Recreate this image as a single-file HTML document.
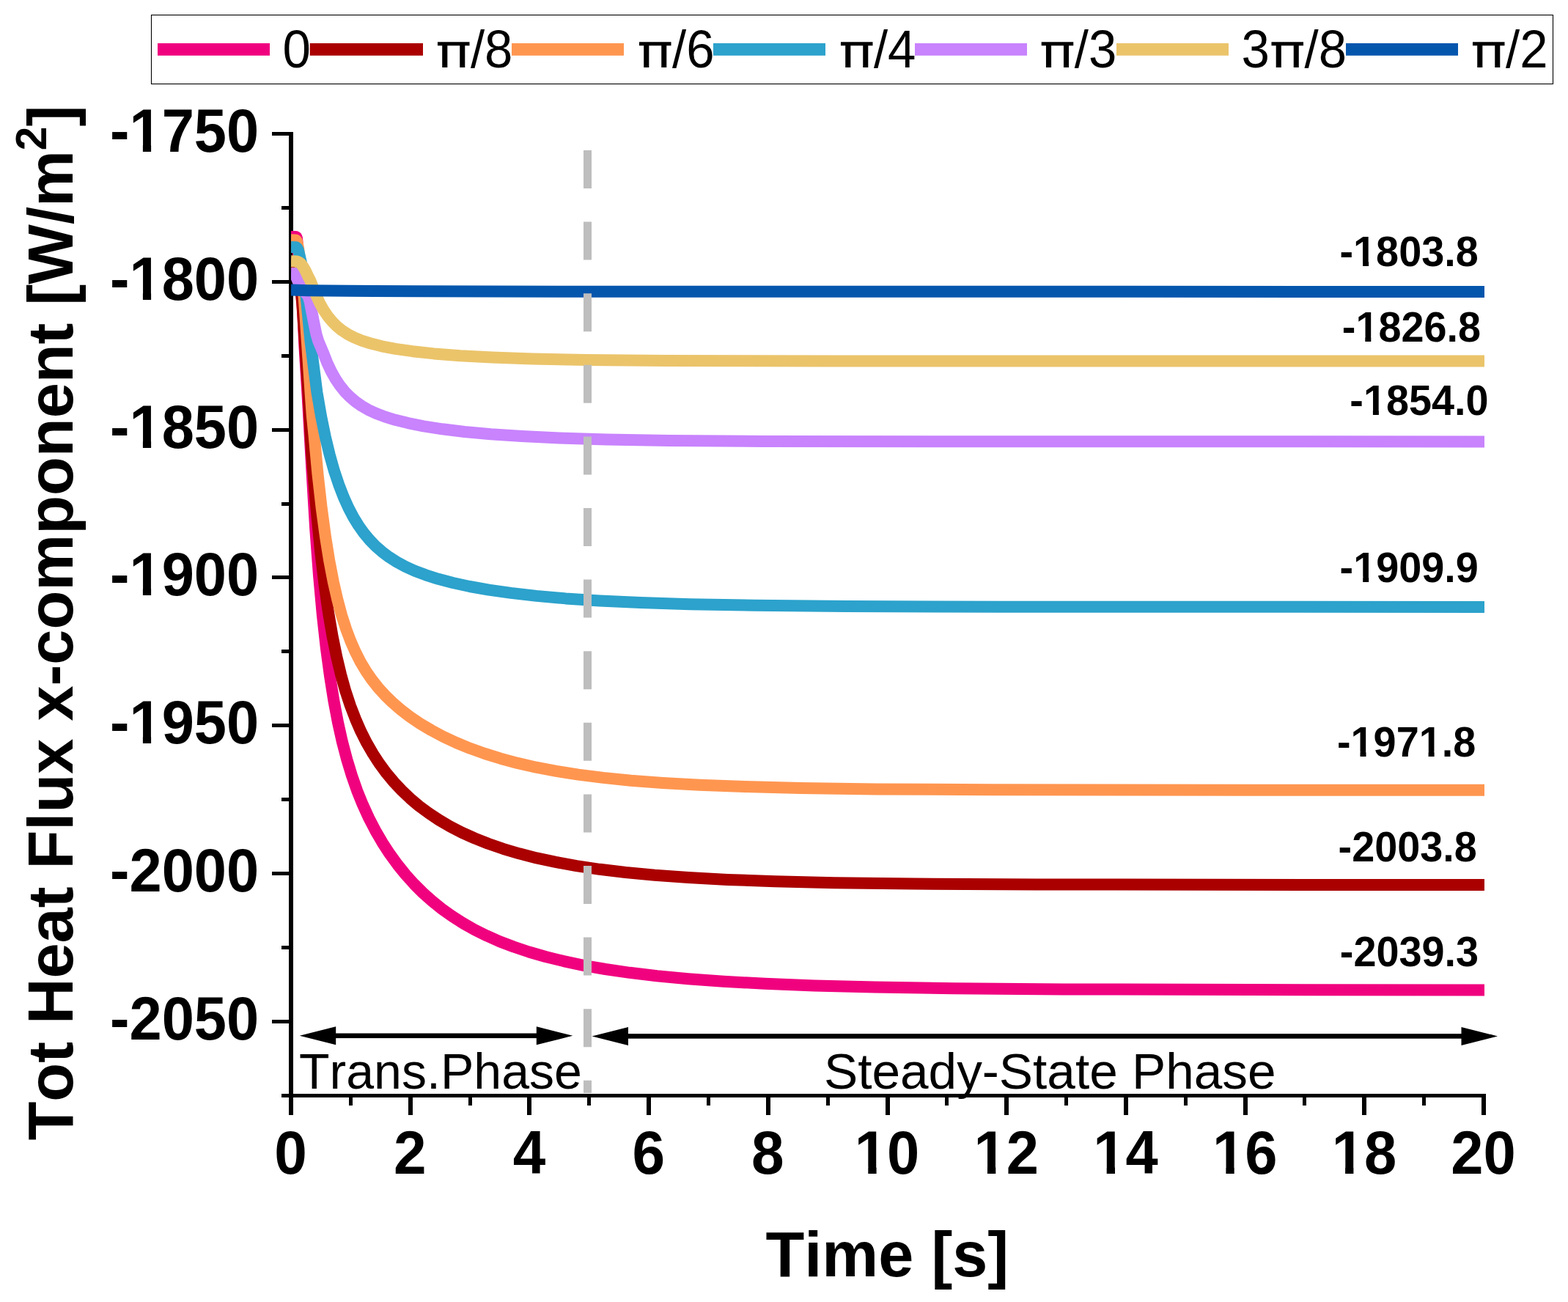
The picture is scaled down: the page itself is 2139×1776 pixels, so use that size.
<!DOCTYPE html><html><head><meta charset="utf-8"><title>Tot Heat Flux x-component vs Time</title>
<style>html,body{margin:0;padding:0;background:#fff;width:2139px;height:1776px;overflow:hidden}svg{display:block}text{font-family:"Liberation Sans",Arial,sans-serif;font-kerning:none}</style></head><body>
<svg width="2139" height="1776" viewBox="0 0 2139 1776">
<rect width="2139" height="1776" fill="#fff"/>
<rect x="206.5" y="20.5" width="1912" height="94" fill="none" stroke="#000" stroke-width="1.1"/>
<rect x="215.0" y="59" width="153.0" height="16.8" fill="#F0027F"/>
<rect x="422.7" y="59" width="154.3" height="16.8" fill="#AA0000"/>
<rect x="698.0" y="59" width="153.0" height="16.8" fill="#FF9650"/>
<rect x="973.0" y="59" width="153.0" height="16.8" fill="#2CA2CC"/>
<rect x="1248.0" y="59" width="153.0" height="16.8" fill="#C883FD"/>
<rect x="1523.0" y="59" width="153.0" height="16.8" fill="#EBC46A"/>
<rect x="1836.0" y="59" width="153.0" height="16.8" fill="#0456AD"/>
<text x="385.4" y="92.2" font-size="71.5" textLength="38.4" lengthAdjust="spacingAndGlyphs">0</text>
<text x="595.9" y="91.9" font-size="69" style="font-family:'WenQuanYi Zen Hei',sans-serif" textLength="45.6" lengthAdjust="spacingAndGlyphs">π</text><text x="641.9" y="92.2" font-size="71.5" textLength="57.5" lengthAdjust="spacingAndGlyphs">/8</text>
<text x="871.1" y="91.9" font-size="69" style="font-family:'WenQuanYi Zen Hei',sans-serif" textLength="45.6" lengthAdjust="spacingAndGlyphs">π</text><text x="917.1" y="92.2" font-size="71.5" textLength="57.5" lengthAdjust="spacingAndGlyphs">/6</text>
<text x="1145.9" y="91.9" font-size="69" style="font-family:'WenQuanYi Zen Hei',sans-serif" textLength="45.6" lengthAdjust="spacingAndGlyphs">π</text><text x="1191.9" y="92.2" font-size="71.5" textLength="57.5" lengthAdjust="spacingAndGlyphs">/4</text>
<text x="1419.8" y="91.9" font-size="69" style="font-family:'WenQuanYi Zen Hei',sans-serif" textLength="45.6" lengthAdjust="spacingAndGlyphs">π</text><text x="1465.8" y="92.2" font-size="71.5" textLength="57.5" lengthAdjust="spacingAndGlyphs">/3</text>
<text x="1693.5" y="92.2" font-size="71.5" textLength="38.4" lengthAdjust="spacingAndGlyphs">3</text><text x="1733.5" y="91.9" font-size="69" style="font-family:'WenQuanYi Zen Hei',sans-serif" textLength="45.6" lengthAdjust="spacingAndGlyphs">π</text><text x="1779.5" y="92.2" font-size="71.5" textLength="57.5" lengthAdjust="spacingAndGlyphs">/8</text>
<text x="2008.1" y="91.9" font-size="69" style="font-family:'WenQuanYi Zen Hei',sans-serif" textLength="45.6" lengthAdjust="spacingAndGlyphs">π</text><text x="2054.1" y="92.2" font-size="71.5" textLength="57.5" lengthAdjust="spacingAndGlyphs">/2</text>
<g fill="#000" shape-rendering="crispEdges">
<rect x="394" y="180" width="6" height="1341"/>
<rect x="384" y="1492" width="1643" height="5"/>
<rect x="371" y="180" width="26" height="5"/>
<rect x="371" y="382" width="26" height="5"/>
<rect x="371" y="584" width="26" height="5"/>
<rect x="371" y="785" width="26" height="5"/>
<rect x="371" y="987" width="26" height="5"/>
<rect x="371" y="1189" width="26" height="5"/>
<rect x="371" y="1391" width="26" height="5"/>
<rect x="384" y="281" width="13" height="5"/>
<rect x="384" y="483" width="13" height="5"/>
<rect x="384" y="685" width="13" height="5"/>
<rect x="384" y="886" width="13" height="5"/>
<rect x="384" y="1088" width="13" height="5"/>
<rect x="384" y="1290" width="13" height="5"/>
<rect x="394" y="1494" width="6" height="27"/>
<rect x="476" y="1494" width="5" height="14"/>
<rect x="557" y="1494" width="6" height="27"/>
<rect x="639" y="1494" width="5" height="14"/>
<rect x="719" y="1494" width="6" height="27"/>
<rect x="801" y="1494" width="5" height="14"/>
<rect x="882" y="1494" width="6" height="27"/>
<rect x="964" y="1494" width="5" height="14"/>
<rect x="1045" y="1494" width="6" height="27"/>
<rect x="1127" y="1494" width="5" height="14"/>
<rect x="1208" y="1494" width="6" height="27"/>
<rect x="1289" y="1494" width="5" height="14"/>
<rect x="1370" y="1494" width="6" height="27"/>
<rect x="1452" y="1494" width="5" height="14"/>
<rect x="1533" y="1494" width="6" height="27"/>
<rect x="1615" y="1494" width="5" height="14"/>
<rect x="1696" y="1494" width="6" height="27"/>
<rect x="1777" y="1494" width="5" height="14"/>
<rect x="1858" y="1494" width="6" height="27"/>
<rect x="1940" y="1494" width="5" height="14"/>
<rect x="2021" y="1494" width="6" height="27"/>
</g>
<defs><clipPath id="pa"><rect x="397" y="150" width="1628" height="1400"/></clipPath></defs>
<g clip-path="url(#pa)">
<path d="M397.0,323.0 L403.5,323.0 L404.4,323.5 L405.1,325.6 L408.8,367.7 L413.1,423.6 L415.4,472.0 L419.7,541.4 L425.6,644.7 L430.2,721.1 L435.0,784.9 L439.8,838.2 L444.8,883.4 L450.0,922.0 L455.3,955.6 L461.0,985.6 L466.9,1011.9 L473.3,1036.1 L480.0,1058.1 L487.1,1078.4 L494.8,1097.4 L503.1,1115.6 L512.1,1132.9 L521.6,1149.3 L531.7,1164.8 L542.3,1179.4 L553.3,1193.0 L565.0,1206.0 L577.0,1218.0 L589.7,1229.3 L603.0,1240.0 L616.8,1249.8 L631.6,1259.2 L647.2,1268.1 L663.8,1276.3 L681.6,1284.2 L700.8,1291.5 L721.6,1298.5 L744.2,1305.0 L769.0,1311.1 L795.9,1316.8 L825.9,1322.0 L859.1,1326.8 L896.3,1331.2 L938.6,1335.2 L987.0,1338.7 L1043.4,1341.8 L1110.9,1344.4 L1193.8,1346.5 L1300.8,1348.2 L1451.3,1349.4 L1705.8,1350.1 L2025.0,1350.4" fill="none" stroke="#F0027F" stroke-width="16" stroke-linejoin="round"/>
<path d="M397.0,352.0 L399.8,355.6 L402.1,360.5 L405.8,371.4 L408.4,380.6 L410.6,396.9 L412.3,414.8 L420.6,538.1 L423.8,597.0 L425.6,624.4 L431.9,698.6 L437.4,753.9 L442.7,798.6 L448.0,835.7 L453.5,867.7 L459.2,895.6 L465.1,920.4 L471.3,942.6 L477.9,962.5 L484.9,980.7 L492.3,997.7 L500.2,1013.3 L508.7,1028.0 L517.7,1041.8 L527.2,1054.7 L537.5,1067.0 L548.1,1078.3 L559.7,1089.3 L571.9,1099.6 L585.2,1109.4 L598.9,1118.5 L614.0,1127.3 L630.0,1135.6 L647.3,1143.4 L665.9,1150.8 L686.3,1157.8 L708.3,1164.3 L732.1,1170.4 L758.0,1175.9 L786.5,1181.1 L818.1,1185.8 L853.4,1190.0 L893.2,1193.8 L939.1,1197.1 L992.5,1199.9 L1057.0,1202.3 L1138.0,1204.2 L1246.9,1205.6 L1413.9,1206.5 L1778.4,1206.9 L2025.0,1207.0" fill="none" stroke="#AA0000" stroke-width="16" stroke-linejoin="round"/>
<path d="M397.0,327.3 L403.5,327.4 L404.6,328.4 L405.6,331.1 L407.4,341.1 L409.6,360.4 L411.9,382.8 L414.6,404.7 L417.1,439.6 L423.9,540.8 L425.7,565.8 L428.4,592.1 L433.5,646.9 L438.7,693.1 L444.0,732.2 L449.3,765.3 L454.8,793.8 L460.4,818.2 L466.1,839.4 L472.1,858.0 L478.2,874.3 L484.9,889.4 L491.7,902.8 L499.1,915.2 L507.0,926.8 L515.7,937.8 L525.1,948.2 L535.4,958.3 L546.8,968.1 L559.5,977.8 L573.2,987.1 L588.2,996.0 L604.5,1004.7 L622.2,1013.0 L641.2,1020.8 L661.4,1028.0 L682.9,1034.7 L706.1,1040.9 L731.4,1046.7 L758.9,1051.9 L789.0,1056.6 L822.8,1060.9 L860.6,1064.7 L904.0,1068.0 L954.4,1070.8 L1015.3,1073.1 L1091.8,1075.0 L1195.3,1076.4 L1354.3,1077.3 L1707.3,1077.8 L2025.0,1077.8" fill="none" stroke="#FF9650" stroke-width="16" stroke-linejoin="round"/>
<path d="M397.0,337.0 L403.9,337.2 L405.5,338.6 L406.8,341.3 L408.3,347.1 L411.9,362.7 L417.7,405.8 L423.6,466.5 L432.4,535.0 L438.0,567.5 L443.8,595.9 L449.8,620.7 L455.9,642.3 L462.3,661.3 L468.8,678.1 L475.4,692.7 L482.1,705.5 L489.2,717.0 L496.4,727.2 L504.1,736.4 L512.4,745.0 L521.1,752.6 L530.7,759.8 L541.2,766.5 L552.7,772.7 L565.9,778.7 L580.8,784.3 L598.0,789.8 L617.8,795.0 L640.8,800.0 L666.9,804.6 L697.1,808.9 L731.8,812.9 L771.7,816.4 L818.1,819.4 L873.5,822.0 L941.5,824.2 L1029.5,825.8 L1154.0,827.0 L1368.0,827.7 L2025.0,827.9" fill="none" stroke="#2CA2CC" stroke-width="16" stroke-linejoin="round"/>
<path d="M397.0,373.0 L401.4,373.1 L402.3,374.3 L404.4,378.5 L407.9,386.8 L412.1,393.6 L416.1,398.8 L419.5,402.5 L420.8,405.0 L422.7,411.5 L427.5,436.4 L431.5,456.1 L434.0,464.6 L440.6,480.3 L446.1,494.3 L451.8,506.5 L457.7,517.0 L463.8,526.1 L470.4,534.3 L477.4,541.4 L485.0,547.9 L493.2,553.6 L502.3,558.9 L512.7,563.7 L524.9,568.4 L539.2,572.8 L556.7,577.1 L577.8,581.3 L603.5,585.3 L633.7,589.0 L669.6,592.3 L712.0,595.1 L762.9,597.5 L826.9,599.4 L912.4,600.9 L1041.4,601.9 L1309.9,602.3 L2025.0,602.4" fill="none" stroke="#C883FD" stroke-width="16" stroke-linejoin="round"/>
<path d="M397.0,356.3 L405.0,356.5 L407.8,357.6 L410.2,359.4 L413.5,363.8 L416.8,369.4 L420.6,377.6 L423.2,382.4 L430.5,401.0 L436.1,413.3 L441.7,423.3 L447.3,431.6 L453.4,438.9 L459.8,445.3 L466.8,450.9 L474.3,455.8 L483.2,460.4 L493.4,464.6 L505.7,468.5 L520.8,472.3 L539.4,475.8 L562.7,479.2 L592.0,482.4 L627.9,485.2 L671.3,487.6 L726.3,489.5 L799.8,491.0 L910.3,491.9 L1136.8,492.4 L2025.0,492.5" fill="none" stroke="#EBC46A" stroke-width="16" stroke-linejoin="round"/>
<path d="M397.0,395.6 L420.0,396.2 L475.0,396.8 L565.0,397.3 L800.0,397.8 L2025.0,397.9" fill="none" stroke="#0456AD" stroke-width="16" stroke-linejoin="round"/>
</g>
<line x1="801.5" y1="205" x2="801.5" y2="1491" stroke="#BEBEBE" stroke-width="11" stroke-dasharray="52 45.6"/>
<rect x="428.7" y="1409.50" width="332.6" height="6.6" fill="#000"/><path d="M408.7,1412.8L458.2,1400.3L458.2,1425.3Z" fill="#000"/><path d="M781.3,1412.8L731.8,1400.3L731.8,1425.3Z" fill="#000"/>
<rect x="827.5" y="1410.10" width="1195.5" height="6.6" fill="#000"/><path d="M807.5,1413.4L857.0,1400.9L857.0,1425.9Z" fill="#000"/><path d="M2043.0,1413.4L1993.5,1400.9L1993.5,1425.9Z" fill="#000"/>
<text x="408" y="1484.6" font-size="69" textLength="386" lengthAdjust="spacingAndGlyphs">Trans.Phase</text>
<text x="1124" y="1484.7" font-size="69" textLength="616.5" lengthAdjust="spacingAndGlyphs">Steady-State Phase</text>
<text x="150.0" y="206.9" font-size="82.7" font-weight="bold" textLength="203.2" lengthAdjust="spacingAndGlyphs">-1750</text>
<text x="150.0" y="408.8" font-size="82.7" font-weight="bold" textLength="203.2" lengthAdjust="spacingAndGlyphs">-1800</text>
<text x="150.0" y="610.6" font-size="82.7" font-weight="bold" textLength="203.2" lengthAdjust="spacingAndGlyphs">-1850</text>
<text x="150.0" y="812.4" font-size="82.7" font-weight="bold" textLength="203.2" lengthAdjust="spacingAndGlyphs">-1900</text>
<text x="150.0" y="1014.3" font-size="82.7" font-weight="bold" textLength="203.2" lengthAdjust="spacingAndGlyphs">-1950</text>
<text x="150.0" y="1216.2" font-size="82.7" font-weight="bold" textLength="203.2" lengthAdjust="spacingAndGlyphs">-2000</text>
<text x="150.0" y="1418.0" font-size="82.7" font-weight="bold" textLength="203.2" lengthAdjust="spacingAndGlyphs">-2050</text>
<text x="374.30" y="1601.3" font-size="82.7" font-weight="bold" textLength="44.6" lengthAdjust="spacingAndGlyphs">0</text>
<text x="537.00" y="1601.3" font-size="82.7" font-weight="bold" textLength="44.6" lengthAdjust="spacingAndGlyphs">2</text>
<text x="699.70" y="1601.3" font-size="82.7" font-weight="bold" textLength="44.6" lengthAdjust="spacingAndGlyphs">4</text>
<text x="862.40" y="1601.3" font-size="82.7" font-weight="bold" textLength="44.6" lengthAdjust="spacingAndGlyphs">6</text>
<text x="1025.10" y="1601.3" font-size="82.7" font-weight="bold" textLength="44.6" lengthAdjust="spacingAndGlyphs">8</text>
<text x="1165.87" y="1601.3" font-size="82.7" font-weight="bold" textLength="88.5" lengthAdjust="spacingAndGlyphs">10</text>
<text x="1328.57" y="1601.3" font-size="82.7" font-weight="bold" textLength="88.5" lengthAdjust="spacingAndGlyphs">12</text>
<text x="1491.27" y="1601.3" font-size="82.7" font-weight="bold" textLength="88.5" lengthAdjust="spacingAndGlyphs">14</text>
<text x="1653.97" y="1601.3" font-size="82.7" font-weight="bold" textLength="88.5" lengthAdjust="spacingAndGlyphs">16</text>
<text x="1816.67" y="1601.3" font-size="82.7" font-weight="bold" textLength="88.5" lengthAdjust="spacingAndGlyphs">18</text>
<text x="1979.37" y="1601.3" font-size="82.7" font-weight="bold" textLength="88.5" lengthAdjust="spacingAndGlyphs">20</text>
<text x="1827.5" y="363.2" font-size="57.5" font-weight="bold" textLength="189.3" lengthAdjust="spacingAndGlyphs">-1803.8</text>
<text x="1830.8" y="466.3" font-size="57.5" font-weight="bold" textLength="189.3" lengthAdjust="spacingAndGlyphs">-1826.8</text>
<text x="1841.3" y="566.3" font-size="57.5" font-weight="bold" textLength="189.3" lengthAdjust="spacingAndGlyphs">-1854.0</text>
<text x="1827.6" y="793.5" font-size="57.5" font-weight="bold" textLength="189.3" lengthAdjust="spacingAndGlyphs">-1909.9</text>
<text x="1824.0" y="1032.0" font-size="57.5" font-weight="bold" textLength="189.3" lengthAdjust="spacingAndGlyphs">-1971.8</text>
<text x="1825.6" y="1174.5" font-size="57.5" font-weight="bold" textLength="189.3" lengthAdjust="spacingAndGlyphs">-2003.8</text>
<text x="1827.8" y="1317.6" font-size="57.5" font-weight="bold" textLength="189.3" lengthAdjust="spacingAndGlyphs">-2039.3</text>
<g fill="#fff"><rect x="180.0" y="197.3" width="14.9" height="10.8"/><rect x="206.1" y="197.3" width="14.2" height="10.8"/><rect x="180.0" y="399.2" width="14.9" height="10.8"/><rect x="206.1" y="399.2" width="14.2" height="10.8"/><rect x="180.0" y="601.0" width="14.9" height="10.8"/><rect x="206.1" y="601.0" width="14.2" height="10.8"/><rect x="180.0" y="802.9" width="14.9" height="10.8"/><rect x="206.1" y="802.9" width="14.2" height="10.8"/><rect x="180.0" y="1004.7" width="14.9" height="10.8"/><rect x="206.1" y="1004.7" width="14.2" height="10.8"/><rect x="1169.4" y="1591.7" width="14.9" height="10.8"/><rect x="1195.6" y="1591.7" width="14.2" height="10.8"/><rect x="1332.1" y="1591.7" width="14.9" height="10.8"/><rect x="1358.3" y="1591.7" width="14.2" height="10.8"/><rect x="1494.8" y="1591.7" width="14.9" height="10.8"/><rect x="1521.0" y="1591.7" width="14.2" height="10.8"/><rect x="1657.5" y="1591.7" width="14.9" height="10.8"/><rect x="1683.7" y="1591.7" width="14.2" height="10.8"/><rect x="1820.2" y="1591.7" width="14.9" height="10.8"/><rect x="1846.4" y="1591.7" width="14.2" height="10.8"/><rect x="1848.7" y="356.3" width="10.4" height="8.1"/><rect x="1867.1" y="356.3" width="10.0" height="8.1"/><rect x="1851.9" y="459.4" width="10.4" height="8.1"/><rect x="1870.3" y="459.4" width="10.0" height="8.1"/><rect x="1862.5" y="559.4" width="10.4" height="8.1"/><rect x="1880.9" y="559.4" width="10.0" height="8.1"/><rect x="1848.8" y="786.6" width="10.4" height="8.1"/><rect x="1867.2" y="786.6" width="10.0" height="8.1"/><rect x="1845.1" y="1025.1" width="10.4" height="8.1"/><rect x="1863.5" y="1025.1" width="10.0" height="8.1"/><rect x="1938.2" y="1025.1" width="10.4" height="8.1"/><rect x="1956.6" y="1025.1" width="10.0" height="8.1"/></g>
<text x="1044.5" y="1741" font-size="86.5" font-weight="bold">Time [s]</text>
<text transform="translate(99,1555.5) rotate(-90)" font-size="86.5" font-weight="bold">Tot Heat Flux x-component [W/m<tspan font-size="58.5" dy="-36">2</tspan><tspan dy="36">]</tspan></text>
</svg></body></html>
